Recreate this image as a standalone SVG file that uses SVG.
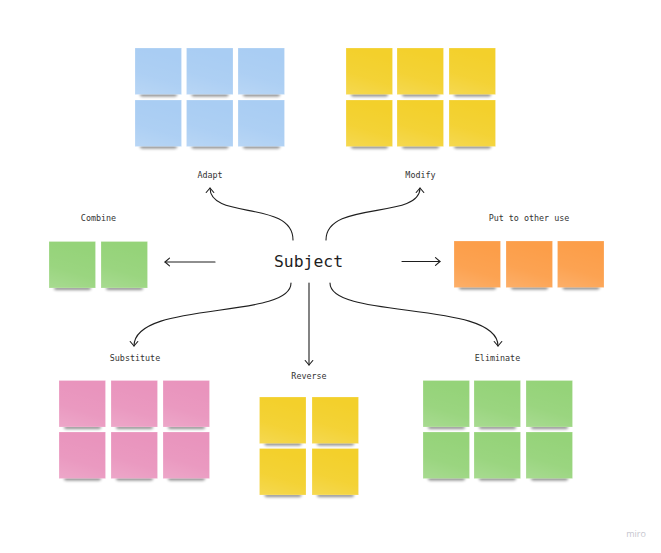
<svg xmlns="http://www.w3.org/2000/svg" xmlns:xlink="http://www.w3.org/1999/xlink" width="661" height="553" viewBox="0 0 661 553">
<style>
.lbl{font-family:"DejaVu Sans Mono","Liberation Mono",monospace;font-size:8.4px;fill:#333;text-anchor:middle}
.subj{font-family:"DejaVu Sans Mono","Liberation Mono",monospace;font-size:16.4px;fill:#1e1e1e;text-anchor:middle}
.arr{fill:none;stroke:#1e1e1e;stroke-width:1.1;stroke-linecap:round;marker-end:url(#ah)}
.blue{fill:#a9cdf3}.yel{fill:#f3d02b}.grn{fill:#95d379}.org{fill:#fc9e49}.pnk{fill:#e994bd}
</style>
<defs>
<filter id="blur" x="-20%" y="-100%" width="140%" height="300%"><feGaussianBlur stdDeviation="1.4"/></filter>
<linearGradient id="sheen" x1="0.3" y1="0" x2="0" y2="1">
<stop offset="0" stop-color="#fff" stop-opacity="0"/>
<stop offset="0.55" stop-color="#fff" stop-opacity="0.05"/>
<stop offset="1" stop-color="#fff" stop-opacity="0.18"/>
</linearGradient>
<marker id="ah" viewBox="-6 -5 8 10" markerWidth="8" markerHeight="10" refX="0" refY="0" orient="auto" markerUnits="userSpaceOnUse">
<path d="M-4.5,-3.8 L0,0 L-4.5,3.8" fill="none" stroke="#1e1e1e" stroke-width="1.1" stroke-linecap="round" stroke-linejoin="round"/>
</marker>
<g id="note">
<rect x="5" y="44" width="37" height="4.5" rx="2" fill="#000" opacity="0.45" filter="url(#blur)"/>
<rect x="0" y="0" width="46.5" height="46.5"/>
<rect x="0" y="0" width="46.5" height="46.5" fill="url(#sheen)" stroke="#fff" stroke-opacity="0.35" stroke-width="0.6"/>
</g>
</defs>
<rect width="661" height="553" fill="#fff"/>

<g id="connectors">
<path class="arr" d="M293,240 C293,200 210,220 210,188"/>
<path class="arr" d="M326,240 C326,200 420,220 420,188"/>
<path class="arr" d="M215,262 L165,262"/>
<path class="arr" d="M402,261.5 L440,261.5"/>
<path class="arr" d="M291,283 C291,320 134,300 134,346"/>
<path class="arr" d="M309,283 L309,365"/>
<path class="arr" d="M330,283 C330,320 498,300 498,346"/>
</g>

<g id="subject">
<text class="subj" x="308.5" y="267">Subject</text>
</g>

<g id="adapt">
<use href="#note" class="blue" x="135" y="48"/>
<use href="#note" class="blue" x="186.5" y="48"/>
<use href="#note" class="blue" x="238" y="48"/>
<use href="#note" class="blue" x="135" y="100"/>
<use href="#note" class="blue" x="186.5" y="100"/>
<use href="#note" class="blue" x="238" y="100"/>
<text class="lbl" x="210" y="178">Adapt</text>
</g>

<g id="modify">
<use href="#note" class="yel" x="346" y="48"/>
<use href="#note" class="yel" x="397" y="48"/>
<use href="#note" class="yel" x="449" y="48"/>
<use href="#note" class="yel" x="346" y="100"/>
<use href="#note" class="yel" x="397" y="100"/>
<use href="#note" class="yel" x="449" y="100"/>
<text class="lbl" x="420.5" y="178">Modify</text>
</g>

<g id="combine">
<use href="#note" class="grn" x="49" y="241.5"/>
<use href="#note" class="grn" x="101" y="241.5"/>
<text class="lbl" x="98.5" y="221">Combine</text>
</g>

<g id="put-to-other-use">
<use href="#note" class="org" x="454" y="241"/>
<use href="#note" class="org" x="506" y="241"/>
<use href="#note" class="org" x="557.5" y="241"/>
<text class="lbl" x="529" y="221">Put to other use</text>
</g>

<g id="substitute">
<use href="#note" class="pnk" x="59" y="380.5"/>
<use href="#note" class="pnk" x="111" y="380.5"/>
<use href="#note" class="pnk" x="163" y="380.5"/>
<use href="#note" class="pnk" x="59" y="432"/>
<use href="#note" class="pnk" x="111" y="432"/>
<use href="#note" class="pnk" x="163" y="432"/>
<text class="lbl" x="135" y="361">Substitute</text>
</g>

<g id="reverse">
<use href="#note" class="yel" x="259.5" y="397"/>
<use href="#note" class="yel" x="312" y="397"/>
<use href="#note" class="yel" x="259.5" y="448.5"/>
<use href="#note" class="yel" x="312" y="448.5"/>
<text class="lbl" x="309" y="379">Reverse</text>
</g>

<g id="eliminate">
<use href="#note" class="grn" x="423" y="380.5"/>
<use href="#note" class="grn" x="474" y="380.5"/>
<use href="#note" class="grn" x="526" y="380.5"/>
<use href="#note" class="grn" x="423" y="432"/>
<use href="#note" class="grn" x="474" y="432"/>
<use href="#note" class="grn" x="526" y="432"/>
<text class="lbl" x="497.5" y="361">Eliminate</text>
</g>

<text x="636" y="537" font-family="'Open Sans','DejaVu Sans',sans-serif" font-size="9" fill="#c6c6ce" text-anchor="middle">miro</text>
</svg>
